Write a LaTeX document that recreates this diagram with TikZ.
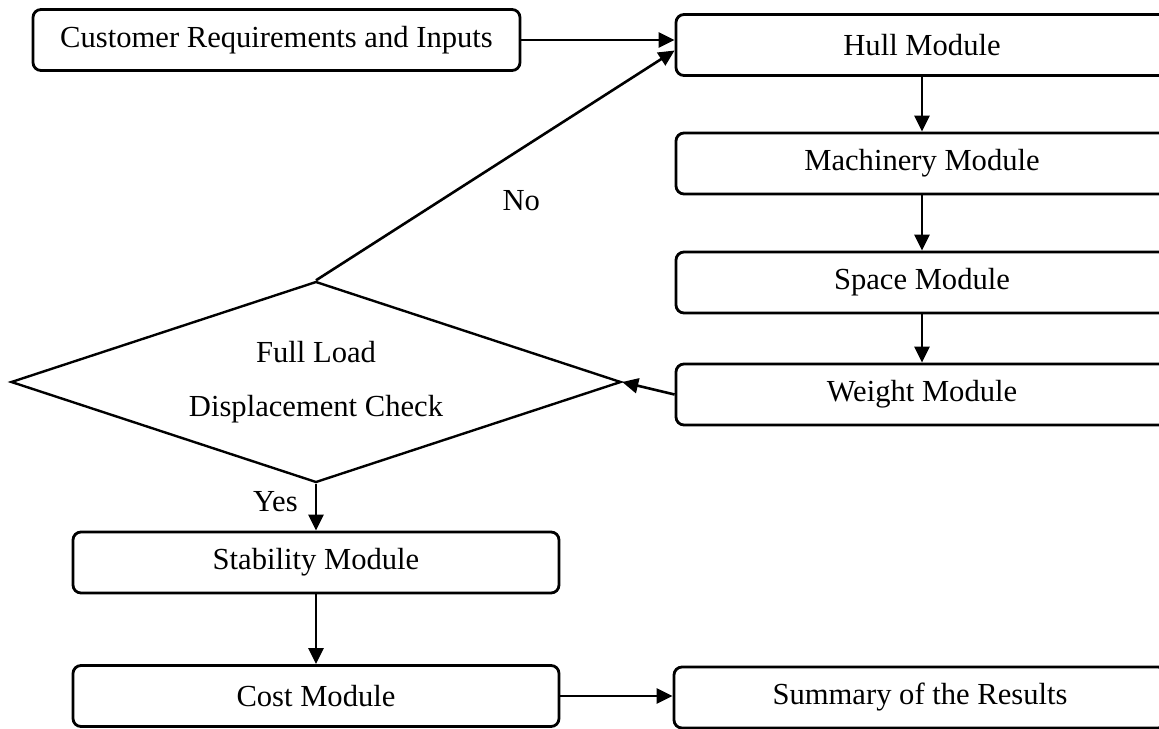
\documentclass[tikz,border=0pt]{standalone}
\usepackage{fontspec}
\setmainfont{Liberation Serif}
\usetikzlibrary{arrows.meta,shapes.geometric}
\tikzset{
  modbox/.style={draw, rounded corners=4pt, line width=1.4pt, minimum width=243pt,
    minimum height=30.5pt, inner sep=0pt},
  checknode/.style={draw, diamond, aspect=3, line width=1.2pt, minimum width=305pt,
    minimum height=100.5pt, inner sep=0pt, align=center, font=\fontsize{15.3}{27}\selectfont},
  flow/.style={line width=1.3pt, -{Triangle[length=8pt,width=7.5pt]}},
  lbl/.style={inner sep=0pt}
}
\begin{document}
\begin{tikzpicture}[x=0.5pt, y=-0.5pt, font=\fontsize{15.3}{18}\selectfont]
    \useasboundingbox (0,0) rectangle (1159,728);
    \clip (0,0) rectangle (1159,728);
    % right column
    \node[modbox, minimum width=243.5pt] (cust) at (276.5,40) {Customer Requirements and Inputs};
    \node[modbox, minimum width=246pt] (hull) at (922,45) {Hull Module};
    \node[modbox, minimum width=246pt] (mach) at (922,163.5) {Machinery Module};
    \node[modbox, minimum width=246pt] (space) at (922,282.5) {Space Module};
    \node[modbox, minimum width=246pt] (weight) at (922,394.5) {Weight Module};
    % check and left column
    \node[checknode] (check) at (316,382) {Full Load\\Displacement Check};
    \node[modbox] (stab) at (316,562.5) {Stability Module};
    \node[modbox] (cost) at (316,696) {Cost Module};
    \node[modbox, minimum width=246pt] (summ) at (920,697.5) {Summary of the Results};
    % connectors
    \draw[flow] (cust.east) -- (cust.east -| hull.west);
    \draw[flow] (check.north) -- node[lbl, pos=0.345, right=30.75pt] {No} ([yshift=-2.75pt]hull.west);
    \draw[flow] (hull) -- (mach);
    \draw[flow] (mach) -- (space);
    \draw[flow] (space) -- (weight);
    \draw[flow] (weight.west) -- (check.east);
    \draw[flow] (check.south) -- node[lbl, pos=0.39, left=8.5pt] {Yes} (stab.north);
    \draw[flow] (stab) -- (cost);
    \draw[flow] (cost.east) -- (cost.east -| summ.west);
\end{tikzpicture}
\end{document}
